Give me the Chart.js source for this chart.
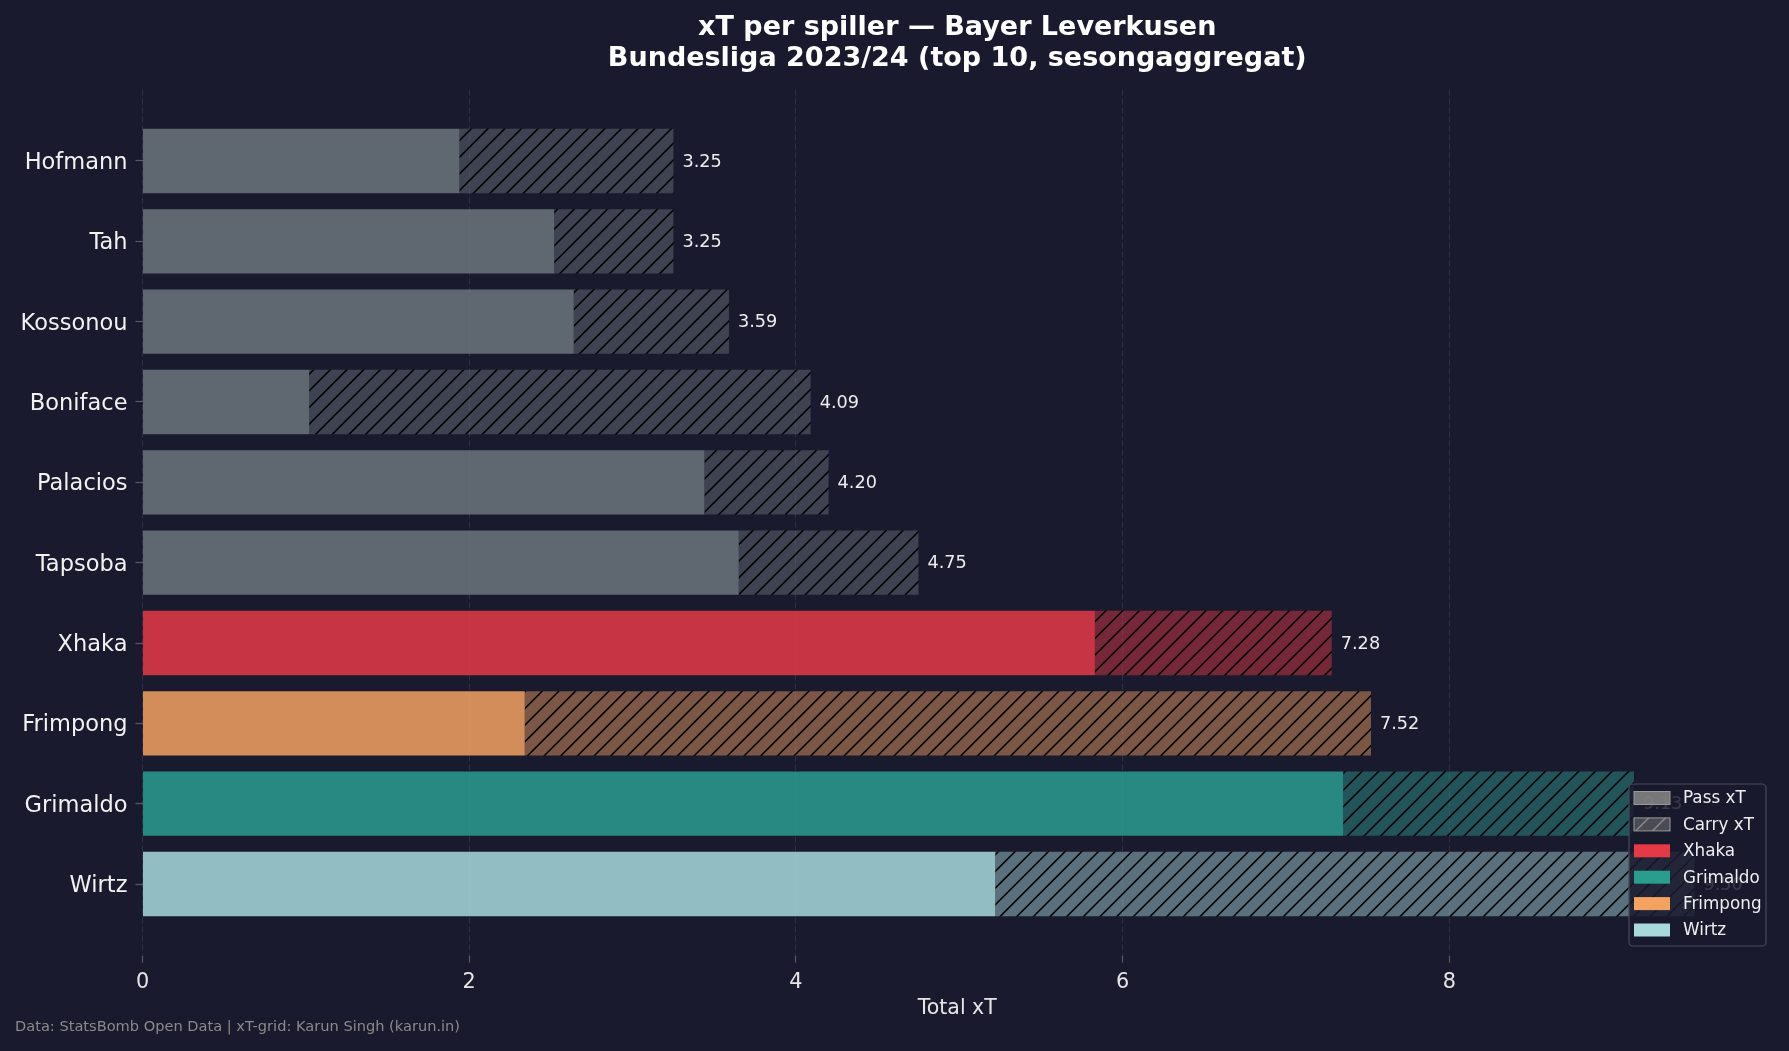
<!DOCTYPE html>
<html>
<head>
<meta charset="utf-8">
<script src="https://cdn.jsdelivr.net/npm/chart.js@4.4.1/dist/chart.umd.min.js"></script>
<style>
html, body { margin:0; padding:0; background:#1a1a2e; }
canvas { display:block; }
</style>
</head>
<body>
<canvas id="xtChart" width="1789" height="1051"></canvas>
<script>
// --- Data (lest av fra figuren)
const spillere = ["Hofmann","Tah","Kossonou","Boniface","Palacios","Tapsoba","Xhaka","Frimpong","Grimaldo","Wirtz"];
const passXT  = [1.94, 2.52, 2.64, 1.02, 3.44, 3.65, 5.83, 2.34, 7.35, 5.22];
const carryXT = [1.31, 0.73, 0.95, 3.07, 0.76, 1.10, 1.45, 5.18, 1.78, 4.28];
const xTicks = [0, 2, 4, 6, 8];
const fremhevet = { Xhaka:"#e63946", Grimaldo:"#2a9d8f", Frimpong:"#f4a261", Wirtz:"#a8dadc" };
const standardFarge = "#6c757d";
const legendTekster = ["Pass xT", "Carry xT", "Xhaka", "Grimaldo", "Frimpong", "Wirtz"];
const tittel = ["xT per spiller \u2014 Bayer Leverkusen", "Bundesliga 2023/24 (top 10, sesongaggregat)"];
const fotnote = "Data: StatsBomb Open Data | xT-grid: Karun Singh (karun.in)";

const FONT = "'DejaVu Sans', sans-serif";

// --- hex -> rgba
function rgba(hex, a) {
    const n = parseInt(hex.slice(1), 16);
    return `rgba(${(n >> 16) & 255},${(n >> 8) & 255},${n & 255},${a})`;
}

// --- Skravur-mønster ("//") for carry-delen
function lagSkravur(fyll, linjeFarge) {
    const s = 50;
    const c = document.createElement("canvas");
    c.width = s; c.height = s;
    const g = c.getContext("2d");
    g.fillStyle = fyll;
    g.fillRect(0, 0, s, s);
    g.strokeStyle = linjeFarge;
    g.lineWidth = 1.5;
    g.beginPath();
    for (let k = -1; k <= 7; k++) {
        const cc = k * s / 3;
        g.moveTo(cc - s - 10, s + 10);
        g.lineTo(cc + 10, -10);
    }
    g.stroke();
    return g.createPattern(c, "repeat");
}

const baseFarger = spillere.map(n => fremhevet[n] || standardFarge);
const passFarger = baseFarger.map(f => rgba(f, 0.85));
const carryFarger = baseFarger.map(f => lagSkravur(rgba(f, 0.45), "#000"));

// --- Verdier ved enden av stolpene
const verdiEtiketter = {
    id: "verdiEtiketter",
    afterDatasetsDraw(chart) {
        const { ctx, scales: { x, y } } = chart;
        ctx.save();
        ctx.font = "17.7px " + FONT;
        ctx.fillStyle = "#ececec";
        ctx.textAlign = "left";
        ctx.textBaseline = "middle";
        spillere.forEach((n, i) => {
            const tot = Math.round((passXT[i] + carryXT[i]) * 100) / 100;
            ctx.fillText(tot.toFixed(2), x.getPixelForValue(tot) + 9, y.getPixelForValue(i) + 1);
        });
        ctx.restore();
    }
};

// --- Tittel, fotnote og legend
const pynt = {
    id: "pynt",
    afterDraw(chart) {
        const { ctx, chartArea } = chart;
        ctx.save();
        // tittel
        ctx.fillStyle = "#ffffff";
        ctx.font = "bold 27px " + FONT;
        ctx.textAlign = "center";
        ctx.textBaseline = "middle";
        const cx = (chartArea.left + chartArea.right) / 2;
        ctx.fillText(tittel[0], cx, 27.5);
        ctx.fillText(tittel[1], cx, 58.5);

        // fotnote
        ctx.font = "14.6px " + FONT;
        ctx.fillStyle = "#8a8a8a";
        ctx.textAlign = "left";
        ctx.fillText(fotnote, 15, 1027);

        // legend
        const bx = chartArea.right - 6 - 137, by = chartArea.bottom - 9.5 - 162;
        ctx.beginPath();
        ctx.roundRect(bx, by, 137, 162, 4);
        ctx.fillStyle = "rgba(26,26,46,0.85)";
        ctx.fill();
        ctx.strokeStyle = "#4a4a58";
        ctx.lineWidth = 1.2;
        ctx.stroke();

        const fyll = [
            rgba("#888888", 0.85),
            lagSkravur(rgba("#888888", 0.45), "#888888"),
            fremhevet.Xhaka, fremhevet.Grimaldo, fremhevet.Frimpong, fremhevet.Wirtz
        ];
        ctx.font = "16.8px " + FONT;
        legendTekster.forEach((t, i) => {
            const ry = by + 14 + i * 26.4;
            ctx.fillStyle = fyll[i];
            ctx.fillRect(bx + 5, ry - 6.5, 36, 13);
            if (i < 2) {
                ctx.strokeStyle = "#999999";
                ctx.lineWidth = 1;
                ctx.strokeRect(bx + 5, ry - 6.5, 36, 13);
            }
            ctx.fillStyle = "#eeeeee";
            ctx.fillText(t, bx + 54, ry + 1);
        });
        ctx.restore();
    }
};

const ctx = document.getElementById("xtChart").getContext("2d");
new Chart(ctx, {
    type: "bar",
    data: {
        labels: spillere,
        datasets: [
            {
                label: "Pass xT",
                data: passXT.map((v, i) => ({ x: v, y: i })),
                backgroundColor: passFarger,
                borderWidth: 0,
                barPercentage: 0.8,
                categoryPercentage: 1,
                stack: "xt"
            },
            {
                label: "Carry xT",
                data: carryXT.map((v, i) => ({ x: v, y: i })),
                backgroundColor: carryFarger,
                borderWidth: 0,
                barPercentage: 0.8,
                categoryPercentage: 1,
                stack: "xt"
            }
        ]
    },
    options: {
        indexAxis: "y",
        responsive: false,
        animation: false,
        layout: { padding: { top: 89.5, right: 17, bottom: 0, left: 0 } },
        plugins: {
            legend: { display: false },
            tooltip: { enabled: false },
            title: { display: false }
        },
        scales: {
            x: {
                type: "linear",
                stacked: true,
                min: 0,
                max: 9.975,
                offset: false,
                afterBuildTicks: s => { s.ticks = xTicks.map(v => ({ value: v })); },
                afterFit: s => { s.height = 95.5; },
                grid: {
                    color: "#2e2e44",
                    lineWidth: 1,
                    offset: false,
                    drawTicks: true,
                    tickLength: 7,
                    tickColor: "#5a5a66",
                    tickWidth: 1.2
                },
                border: { display: false, dash: [6, 3] },
                ticks: {
                    color: "#e6e6e6",
                    font: { family: FONT, size: 20.8 },
                    padding: 7.5
                },
                title: {
                    display: true,
                    text: "Total xT",
                    color: "#e6e6e6",
                    font: { family: FONT, size: 20.5 },
                    padding: { top: 4, bottom: 30 }
                }
            },
            y: {
                type: "linear",
                stacked: true,
                reverse: true,
                min: -0.89,
                max: 9.89,
                offset: false,
                afterBuildTicks: s => { s.ticks = spillere.map((n, i) => ({ value: i })); },
                afterFit: s => { s.width = 142.5; },
                grid: {
                    offset: false,
                    drawOnChartArea: false,
                    drawTicks: true,
                    tickLength: 7,
                    tickColor: "#5a5a66",
                    tickWidth: 1.2
                },
                border: { display: false },
                ticks: {
                    autoSkip: false,
                    color: "#f2f2f2",
                    font: { family: FONT, size: 22.5 },
                    padding: 8,
                    labelOffset: 2,
                    callback: v => spillere[v]
                }
            }
        }
    },
    plugins: [verdiEtiketter, pynt]
});
</script>
</body>
</html>
